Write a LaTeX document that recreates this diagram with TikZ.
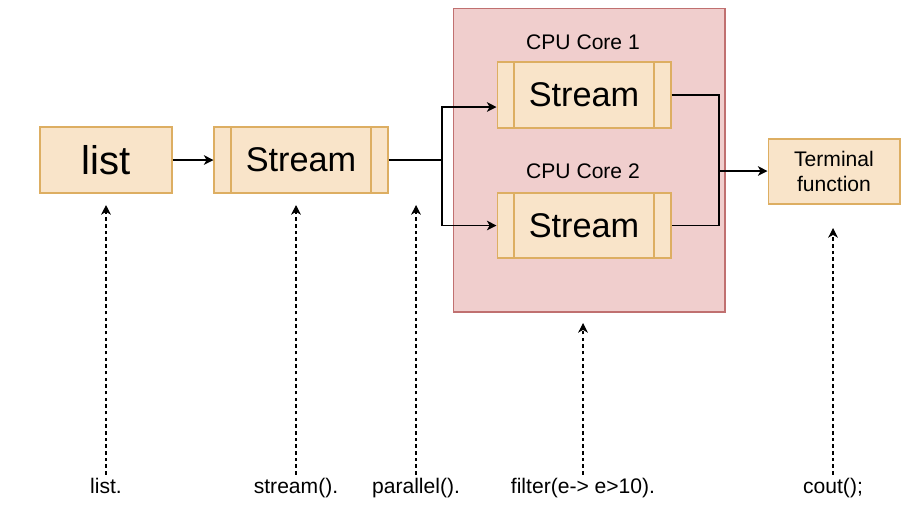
\documentclass[tikz,border=0pt]{standalone}
\usepackage{fontspec}
\setsansfont{Liberation Sans}
\usetikzlibrary{arrows.meta, positioning, calc}
\definecolor{cfill}{HTML}{F9E4C9}
\definecolor{cline}{HTML}{DDAE62}
\definecolor{ccore}{HTML}{F0CECD}
\definecolor{ccoreline}{HTML}{C07070}
\tikzset{
  every picture/.style={font=\sffamily, line width=0.6pt},
  box/.style={draw=cline, fill=cfill, align=center, inner sep=2pt, minimum width=2.64cm, minimum height=1.32cm},
  procbox/.style={box, minimum width=3.48cm, path picture={
      \draw[cline, line width=0.6pt] ([xshift=0.34cm]path picture bounding box.north west) -- ([xshift=0.34cm]path picture bounding box.south west);
      \draw[cline, line width=0.6pt] ([xshift=-0.34cm]path picture bounding box.north east) -- ([xshift=-0.34cm]path picture bounding box.south east);}},
  arrow/.style={-{Stealth[length=5.5pt, width=5.5pt, inset=1.6pt]}, draw=black},
  hint/.style={arrow, dash pattern=on 2pt off 1.8pt},
  corelabel/.style={font=\sffamily\fontsize{12}{14}\selectfont},
  callname/.style={font=\sffamily\fontsize{12}{14}\selectfont, inner sep=1.5pt, anchor=base},
  bigname/.style={font=\sffamily\fontsize{19.5}{22}\selectfont},
}

\begin{document}
\begin{tikzpicture}[x=0.02cm, y=-0.02cm]
  \useasboundingbox (0,0) rectangle (901,529);
  % pipeline
  \node[box, font=\sffamily\fontsize{22.8}{26}\selectfont] (list) at (106,160) {list};
  \node[procbox, bigname] (stream) at (301,160) {Stream};
  \node[draw=ccoreline, fill=ccore, minimum width=5.44cm, minimum height=6.08cm] (cpu) at (589,160) {};
  \node[corelabel] (core1) at (583,42) {CPU Core 1};
  \node[procbox, bigname] (streamA) at (584,95) {Stream};
  \node[corelabel] (core2) at (583,171) {CPU Core 2};
  \node[procbox, bigname, minimum height=1.3cm] (streamB) at (584,225.5) {Stream};
  \node[box, corelabel, minimum height=1.3cm] (term) at (834,171.5) {Terminal\\function};
  % links
  \coordinate (split) at (442,160);
  \coordinate (merge) at (719,171);
  \draw[arrow] (list) -- (stream);
  \draw (stream.east) -- (split);
  \draw[arrow] (split) |- ([yshift=-0.24cm]streamA.west);
  \draw[arrow] (split) |- (streamB.west);
  \draw (streamA.east) -| (merge) |- (streamB.east);
  \draw[arrow] (merge) -- (merge -| term.west);
  % code parts
  \node[callname] (cList) at (106,493) {list.};
  \node[callname] (cStream) at (296,493) {stream().};
  \node[callname] (cPar) at (416,493) {parallel().};
  \node[callname] (cFilter) at (583,493) {filter(e-> e>10).};
  \node[callname] (cCout) at (833,493) {cout();};
  \coordinate (tList) at (106,205);
  \coordinate (tStream) at (296,205);
  \coordinate (tPar) at (416,205);
  \coordinate (tFilter) at (583,323);
  \coordinate (tCout) at (833,228);
  \draw[hint] (cList.north) -- (tList);
  \draw[hint] (cStream.north) -- (tStream);
  \draw[hint] (cPar.north) -- (tPar);
  \draw[hint] (cFilter.north) -- (tFilter);
  \draw[hint] (cCout.north) -- (tCout);
\end{tikzpicture}
\end{document}
